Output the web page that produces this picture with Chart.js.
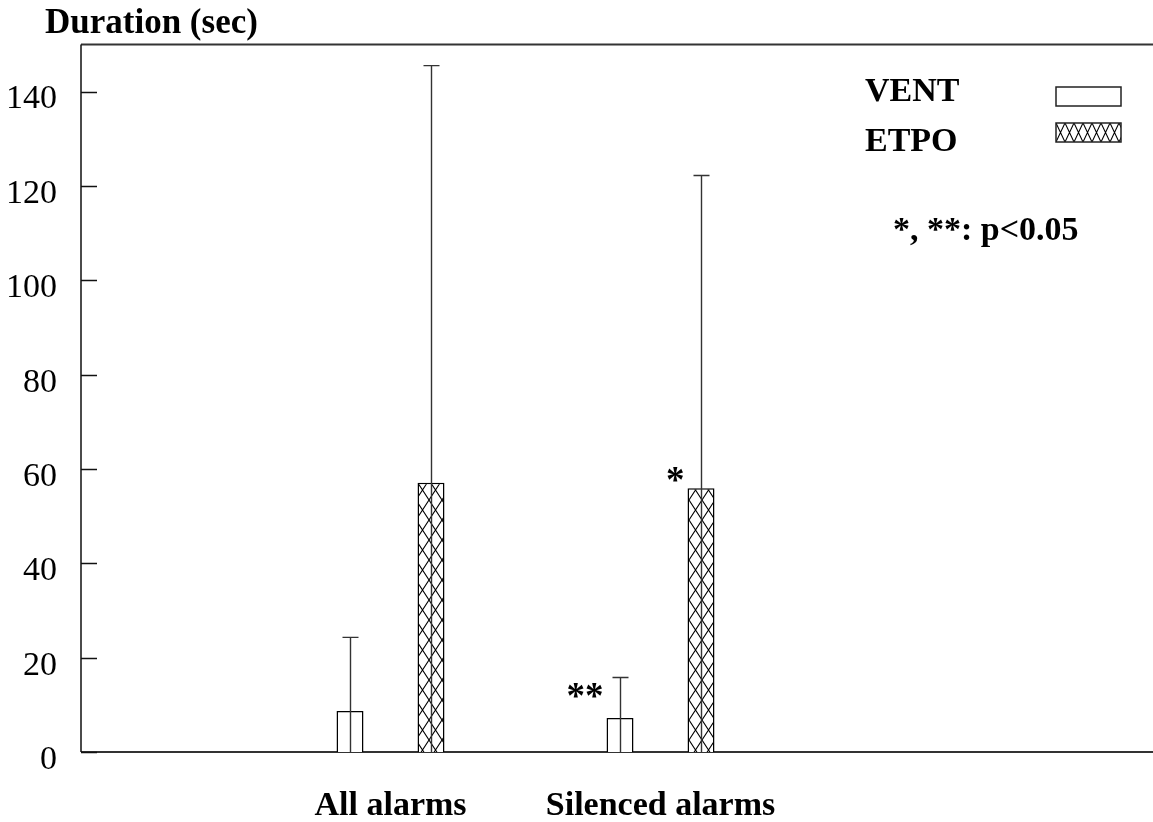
<!DOCTYPE html>
<html lang="en">

<head>
    <meta charset="UTF-8">
    <title>Duration (sec)</title>
    <script src="https://cdn.jsdelivr.net/npm/chart.js"></script>
    <style>
        body {
            margin: 0;
            background: #fff;
        }

        #wrap {
            width: 1153px;
            height: 822px;
        }
    </style>
</head>

<body>
    <div id="wrap"><canvas id="durationChart"></canvas></div>

    <script>
        // data
        const categories = ['All alarms', 'Silenced alarms'];
        const groupPos = [1, 2];
        const ventMean = [8.7, 7.2];
        const ventSD = [15.6, 8.6];
        const etpoMean = [57.1, 55.9];
        const etpoSD = [88.4, 66.3];
        const yTicks = [0, 20, 40, 60, 80, 100, 120, 140];
        const seriesNames = ['VENT', 'ETPO'];
        const sigMarks = [
            { ds: 0, i: 1, text: '**' },
            { ds: 1, i: 1, text: '*' }
        ];
        const sigNote = '*, **: p<0.05';

        const SERIF = '"Liberation Serif", "Times New Roman", serif';

        function hatch(w, h) {
            const c = document.createElement('canvas');
            c.width = w;
            c.height = h;
            const g = c.getContext('2d');
            g.fillStyle = '#fff';
            g.fillRect(0, 0, w, h);
            g.strokeStyle = '#000';
            g.lineWidth = 1.1;
            g.beginPath();
            for (let k = -1; k <= 1; k++) {
                g.moveTo(k * w, 0);
                g.lineTo(k * w + w, h);
                g.moveTo(k * w + w, 0);
                g.lineTo(k * w, h);
            }
            g.stroke();
            return c;
        }

        const ctx = document.getElementById('durationChart').getContext('2d');
        const barHatch = ctx.createPattern(hatch(13, 20), 'repeat');

        const extras = {
            id: 'extras',
            beforeDatasetsDraw(chart) {
                const { ctx, chartArea: a, scales: { y } } = chart;
                ctx.save();
                // frame: left, top, bottom
                ctx.strokeStyle = '#333';
                ctx.lineWidth = 2;
                ctx.beginPath();
                ctx.moveTo(a.left, a.top);
                ctx.lineTo(a.right, a.top);
                ctx.moveTo(a.left, a.bottom);
                ctx.lineTo(a.right, a.bottom);
                ctx.stroke();
                ctx.lineWidth = 1.5;
                ctx.strokeStyle = '#111';
                ctx.beginPath();
                ctx.moveTo(a.left, a.top);
                ctx.lineTo(a.left, a.bottom);
                // inward tick marks
                yTicks.forEach(v => {
                    const py = Math.round(y.getPixelForValue(v)) + 0.5;
                    ctx.moveTo(a.left, py);
                    ctx.lineTo(a.left + 16, py);
                });
                ctx.stroke();
                ctx.restore();
            },
            afterDatasetsDraw(chart) {
                const { ctx, chartArea: a, scales: { y } } = chart;
                ctx.save();
                // error bars, from baseline up through bar
                const sds = [ventSD, etpoSD];
                const means = [ventMean, etpoMean];
                ctx.strokeStyle = '#333';
                ctx.lineWidth = 1.4;
                [0, 1].forEach(ds => {
                    chart.getDatasetMeta(ds).data.forEach((bar, i) => {
                        const top = y.getPixelForValue(means[ds][i] + sds[ds][i]);
                        const bx = Math.round(bar.x) + 0.5;
                        ctx.beginPath();
                        ctx.moveTo(bx, y.getPixelForValue(0));
                        ctx.lineTo(bx, top);
                        ctx.moveTo(bx - 8, top);
                        ctx.lineTo(bx + 8, top);
                        ctx.stroke();
                    });
                });

                ctx.fillStyle = '#000';
                // title
                ctx.font = 'bold 35px ' + SERIF;
                ctx.textAlign = 'left';
                ctx.textBaseline = 'alphabetic';
                ctx.fillText('Duration (sec)', 45, 33);

                // legend
                ctx.font = 'bold 34px ' + SERIF;
                const lx = 865, bx = a.right - 97, bw = 65, bh = 19;
                [[101, 87], [151, 123]].forEach(([ty, by], k) => {
                    ctx.fillStyle = '#000';
                    ctx.fillText(seriesNames[k], lx, ty);
                    if (k === 1) {
                        const p = ctx.createPattern(hatch(9, 19), 'repeat');
                        p.setTransform(new DOMMatrix().translate(bx, by));
                        ctx.fillStyle = p;
                    } else {
                        ctx.fillStyle = '#fff';
                    }
                    ctx.fillRect(bx, by, bw, bh);
                    ctx.lineWidth = 1.5;
                    ctx.strokeStyle = '#222';
                    ctx.strokeRect(bx, by, bw, bh);
                });

                // significance note + stars
                ctx.fillStyle = '#000';
                ctx.fillText(sigNote, 893, 240);
                const dy = [-10, 4];
                ctx.font = 'bold 37px ' + SERIF;
                ctx.textAlign = 'right';
                sigMarks.forEach((m, k) => {
                    const bar = chart.getDatasetMeta(m.ds).data[m.i];
                    ctx.fillText(m.text, bar.x - bar.width / 2 - 3, bar.y + dy[k]);
                });
                ctx.restore();
            }
        };

        new Chart(ctx, {
            type: 'bar',
            data: {
                datasets: [
                    {
                        label: seriesNames[0],
                        data: groupPos.map((x, i) => ({ x: x, y: ventMean[i] })),
                        backgroundColor: '#fff',
                        borderColor: '#000',
                        borderWidth: 1.5
                    },
                    {
                        label: seriesNames[1],
                        data: groupPos.map((x, i) => ({ x: x, y: etpoMean[i] })),
                        backgroundColor: barHatch,
                        borderColor: '#000',
                        borderWidth: 1.5
                    }
                ]
            },
            options: {
                responsive: true,
                maintainAspectRatio: false,
                animation: false,
                categoryPercentage: 0.6,
                barPercentage: 0.333,
                layout: { padding: { top: 44, right: 0, left: 0, bottom: 0 } },
                plugins: {
                    legend: { display: false },
                    tooltip: { enabled: false }
                },
                scales: {
                    x: {
                        type: 'linear',
                        offset: false,
                        min: -0.1463,
                        max: 3.824,
                        grid: { display: false, drawTicks: false },
                        border: { display: false },
                        afterBuildTicks: (axis) => { axis.ticks = groupPos.map(v => ({ value: v })); },
                        afterFit: (axis) => { axis.height = 70; },
                        ticks: {
                            padding: 34,
                            color: '#000',
                            maxRotation: 0,
                            font: { family: SERIF, size: 34, weight: 'bold' },
                            callback: (v) => categories[groupPos.indexOf(v)] || ''
                        }
                    },
                    y: {
                        min: 0,
                        max: 150,
                        grid: { display: false, drawTicks: false },
                        border: { display: false },
                        afterBuildTicks: (axis) => { axis.ticks = yTicks.map(v => ({ value: v })); },
                        afterFit: (axis) => { axis.width = 81; },
                        ticks: {
                            padding: 24,
                            labelOffset: 8,
                            color: '#000',
                            font: { family: SERIF, size: 34 }
                        }
                    }
                }
            },
            plugins: [extras]
        });
    </script>
</body>

</html>
